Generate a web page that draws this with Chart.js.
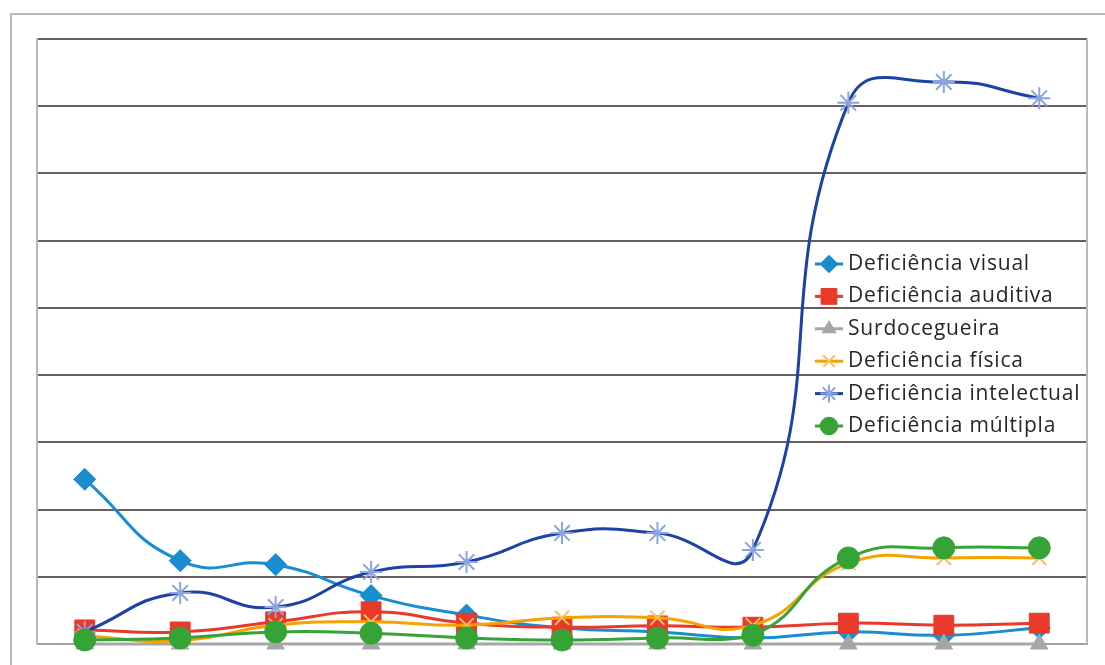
<!DOCTYPE html>
<html>
<head>
<meta charset="utf-8">
<script src="https://cdn.jsdelivr.net/npm/chart.js@4"></script>
<style>
  html, body { margin: 0; padding: 0; background: #fff; }
  #wrap { position: relative; width: 1105px; height: 665px; overflow: hidden; }
  #frame { position: absolute; left: 10px; top: 13px; width: 1200px; height: 800px;
           border-left: 2px solid #bdb6b6; border-top: 2px solid #bdb6b6; }
  canvas { position: absolute; left: 0; top: 0; }
</style>
</head>
<body>
<div id="wrap">
  <div id="frame"></div>
  <canvas id="chart" width="1105" height="665"></canvas>
</div>
<script>
// categories (no labels shown in the picture)
const categories = ['1', '2', '3', '4', '5', '6', '7', '8', '9', '10', '11'];
const yTicks = [0, 1, 2, 3, 4, 5, 6, 7, 8, 9];

const visual      = [2.45, 1.24, 1.18, 0.72, 0.43, 0.24, 0.18, 0.09, 0.18, 0.13, 0.24];
const auditiva    = [0.21, 0.18, 0.33, 0.48, 0.31, 0.25, 0.27, 0.25, 0.31, 0.28, 0.31];
const surdo       = [0, 0, 0, 0, 0, 0, 0, 0, 0, 0, 0];
const fisica      = [0.12, 0.05, 0.28, 0.33, 0.28, 0.39, 0.39, 0.28, 1.20, 1.28, 1.28];
const intelectual = [0.18, 0.76, 0.55, 1.07, 1.22, 1.65, 1.65, 1.40, 8.05, 8.36, 8.12];
const multipla    = [0.06, 0.09, 0.18, 0.16, 0.09, 0.06, 0.09, 0.13, 1.28, 1.43, 1.43];

const seriesNames = ['Deficiência visual', 'Deficiência auditiva', 'Surdocegueira',
                     'Deficiência física', 'Deficiência intelectual', 'Deficiência múltipla'];

function series(i, data, line, marker, style, radius, markerLine, order) {
    return {
        label: seriesNames[i],
        data: data,
        borderColor: line,
        backgroundColor: marker,
        borderWidth: 3,
        tension: 0.5,
        pointStyle: style,
        pointRadius: radius,
        pointHoverRadius: radius,
        pointBackgroundColor: marker,
        pointBorderColor: markerLine || marker,
        pointBorderWidth: markerLine ? 2 : 1,
        clip: false,
        order: order
    };
}

const datasets = [
    series(0, visual, '#1a8cd0', '#1a8cd0', 'rectRot', 11, null, 6),
    series(1, auditiva, '#e8392b', '#e8392b', 'rect', 14, null, 5),
    series(2, surdo, '#a6a6a6', '#a6a6a6', 'triangle', 10, null, 4),
    series(3, fisica, '#f7a200', '#f7a200', 'crossRot', 10, '#f8c060', 3),
    series(4, intelectual, '#1d42a6', '#8aa4e0', 'star', 11, '#8aa4e0', 2),
    series(5, multipla, '#36a336', '#36a336', 'circle', 11, null, 1)
];

// legend drawn inside the plot, plus the right border of the plot
const insideLegend = {
    id: 'insideLegend',
    afterDraw(chart) {
        const ctx = chart.ctx;
        const a = chart.chartArea;
        ctx.save();
        ctx.strokeStyle = '#bdb6b6';
        ctx.lineWidth = 2;
        ctx.beginPath();
        ctx.moveTo(a.right, a.top);
        ctx.lineTo(a.right, a.bottom);
        ctx.stroke();

        const x0 = a.right - 272;
        const y0 = a.top + 225;
        ctx.font = '21px "Open Sans"';
        ctx.letterSpacing = '0.8px';
        ctx.textBaseline = 'middle';
        chart.data.datasets.forEach((ds, i) => {
            const y = y0 + i * 32.4;
            ctx.strokeStyle = ds.borderColor;
            ctx.lineWidth = 3;
            ctx.beginPath();
            ctx.moveTo(x0, y);
            ctx.lineTo(x0 + 28, y);
            ctx.stroke();
            ctx.fillStyle = ds.pointBackgroundColor;
            ctx.strokeStyle = ds.pointBorderColor;
            ctx.lineWidth = ds.pointBorderWidth;
            Chart.helpers.drawPoint(ctx, {
                pointStyle: ds.pointStyle,
                radius: ds.pointRadius * 0.8,
                rotation: 0,
                borderWidth: ds.pointBorderWidth
            }, x0 + 14, y);
            ctx.fillStyle = '#262626';
            ctx.fillText(ds.label, x0 + 33, y);
        });
        ctx.restore();
    }
};

new Chart(document.getElementById('chart'), {
    type: 'line',
    data: { labels: categories, datasets: datasets },
    options: {
        responsive: false,
        animation: false,
        layout: { padding: { left: 37, top: 39, right: 18, bottom: 21 } },
        plugins: { legend: { display: false }, tooltip: { enabled: false } },
        scales: {
            x: {
                offset: true,
                grid: { display: false, drawTicks: false },
                border: { display: true, color: '#a8a2a2', width: 2 },
                ticks: { display: false }
            },
            y: {
                min: yTicks[0],
                max: yTicks[yTicks.length - 1],
                afterBuildTicks(scale) { scale.ticks = yTicks.map(v => ({ value: v })); },
                grid: {
                    drawTicks: false,
                    color: ctx => ctx.index === 0 ? '#a8a2a2' : '#6b5c60',
                    lineWidth: 2
                },
                border: { display: true, color: '#bdb6b6', width: 2 },
                ticks: { display: false }
            }
        }
    },
    plugins: [insideLegend]
});
</script>
</body>
</html>
